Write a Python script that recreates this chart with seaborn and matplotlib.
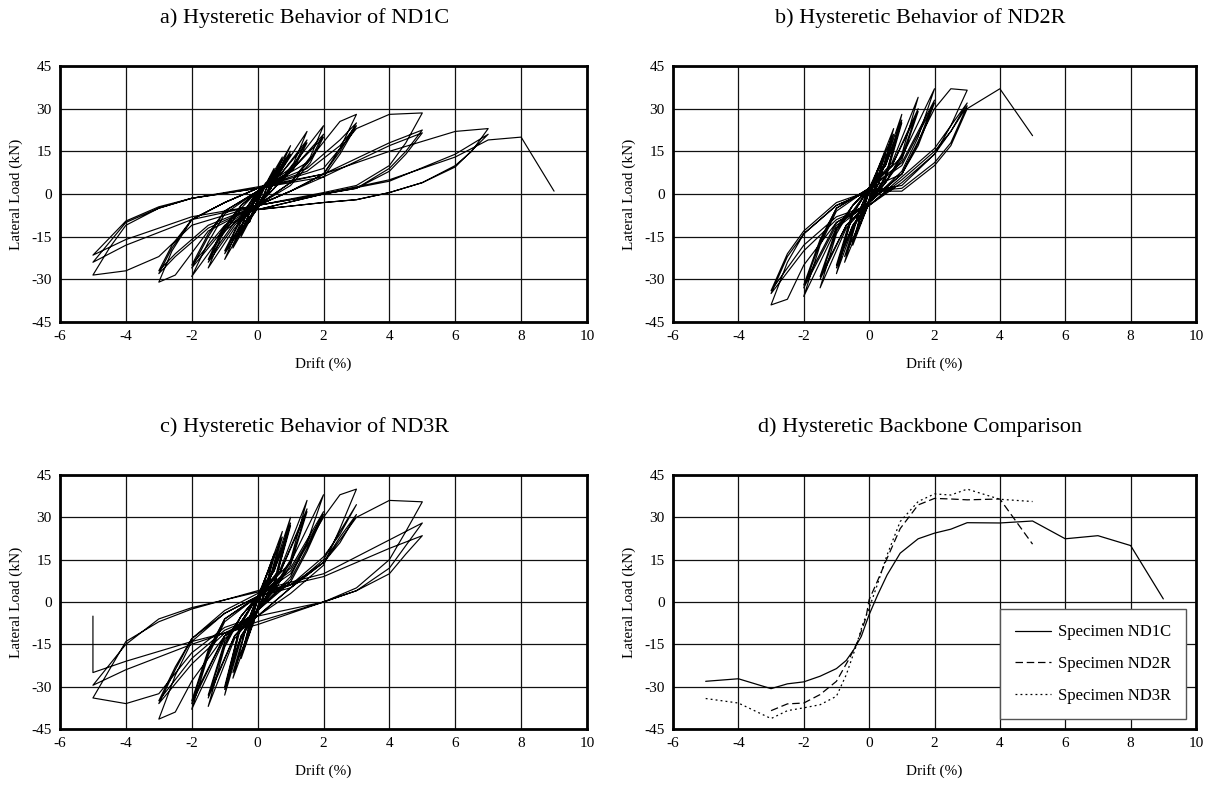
import matplotlib
matplotlib.use("Agg")
import matplotlib.pyplot as plt
import seaborn as sns
import pandas as pd

# hysteresis paths: (drift %, lateral load kN)
nd1c_path = [
    (0, 0),
    (0.25, 4), (0, -3), (-0.25, -10), (0, -2),
    (0.25, 3), (0, -3), (-0.25, -9), (0, -2),
    (0.5, 9), (0.2, 0), (0, -4), (-0.5, -15), (-0.2, -5), (0, -1),
    (0.5, 8), (0.2, 0), (0, -4), (-0.5, -14), (-0.2, -5), (0, -1),
    (0.4, 6), (0.75, 13), (0.3, 1), (0, -5), (-0.4, -12), (-0.75, -19), (-0.3, -6), (0, 0),
    (0.4, 5), (0.75, 12), (0.3, 1), (0, -5), (-0.4, -11), (-0.75, -18), (-0.3, -6), (0, 0),
    (0.5, 7), (1, 17), (0.4, 2), (0, -5), (-0.5, -13), (-1, -23), (-0.4, -7), (0, 1),
    (0.5, 6), (1, 15), (0.4, 2), (0, -5), (-0.5, -12), (-1, -21), (-0.4, -6), (0, 1),
    (0.5, 6), (1, 14), (0.4, 2), (0, -5), (-0.5, -11), (-1, -20), (-0.4, -6), (0, 1),
    (0.7, 8), (1.5, 22), (1.1, 11), (0.5, 2), (0, -4), (-0.7, -12), (-1.5, -26), (-1.1, -15), (-0.5, -5), (0, 1),
    (0.7, 7), (1.5, 19), (1.1, 10), (0.5, 2), (0, -4), (-0.7, -11), (-1.5, -24), (-1.1, -14), (-0.5, -4), (0, 1),
    (0.7, 7), (1.5, 18), (1.1, 9), (0.5, 2), (0, -4), (-0.7, -10), (-1.5, -23), (-1.1, -13), (-0.5, -4), (0, 1),
    (1, 9), (2, 24), (1.6, 13), (1, 4), (0, -4), (-1, -13), (-2, -29), (-1.5, -17), (-1, -7), (0, 1),
    (1, 8), (2, 21), (1.6, 12), (1, 4), (0, -4), (-1, -12), (-2, -26), (-1.5, -15), (-1, -6), (0, 1),
    (1, 8), (2, 20), (1.6, 11), (1, 3), (0, -4), (-1, -11), (-2, -25), (-1.5, -14), (-1, -6), (0, 1),
    (1.5, 11), (2.5, 25.5), (3, 28), (2.5, 16), (2, 7), (1, 1), (0, -4), (-1.5, -13), (-2.5, -28.5), (-3, -31),
    (-2.6, -20), (-2, -9), (-1, -3), (0, 2),
    (1.5, 9), (2.5, 19), (3, 25), (2.5, 15), (2, 7), (1, 1), (0, -4), (-1.5, -12), (-2.5, -22), (-3, -28),
    (-2.6, -19), (-2, -9), (-1, -3), (0, 2),
    (1.5, 8), (2.5, 17), (3, 24), (2.5, 14), (2, 6), (1, 1), (0, -4), (-1.5, -11), (-2.5, -21), (-3, -27),
    (-2.6, -18), (-2, -9), (-1, -3), (0, 2),
    (2, 9), (3, 23), (4, 28), (5, 28.5), (4.5, 18), (4, 10), (3, 3), (2, 0.5), (0, -4), (-2, -11), (-3, -22),
    (-4, -27), (-5, -28.5), (-4.5, -19), (-4, -11), (-3, -5), (-2, -1.5), (0, 2),
    (2, 7), (4, 18), (5, 22.5), (4.5, 15), (4, 9), (3, 2), (2, 0), (0, -4), (-2, -9), (-4, -18), (-5, -24),
    (-4, -10), (-3, -5), (-2, -1.5), (0, 2),
    (2, 6), (4, 17), (5, 21.5), (4.5, 14), (4, 8), (3, 2), (2, 0), (0, -4), (-2, -8), (-4, -16), (-5, -21.5),
    (-4, -9.5), (-3, -4.5), (-2, -1.5), (0, 2.5),
    (2, 7), (4, 15), (6, 22), (7, 23), (6.5, 15), (6, 10), (5, 4), (4, 0.5), (3, -2), (2, -3), (0, -5.5),
    (2, 0), (4, 4.5), (6, 14), (7, 21), (6, 9.5), (5, 4), (4, 0.5), (3, -2), (2, -3), (0, -5.5),
    (2, 0), (4, 5), (6, 13), (7, 19),
    (8, 20), (9, 1),
]

nd2r_path = [
    (0, 0),
    (0.25, 8), (0, -2), (-0.25, -9), (0, 1),
    (0.25, 7), (0, -2), (-0.25, -8), (0, 1),
    (0.5, 15), (0.2, 3), (0, -3), (-0.5, -18), (-0.2, -5), (0, 1),
    (0.5, 14), (0.2, 3), (0, -3), (-0.5, -17), (-0.2, -5), (0, 1),
    (0.75, 23), (0.3, 4), (0, -3), (-0.75, -24), (-0.3, -6), (0, 2),
    (0.75, 21), (0.3, 4), (0, -3), (-0.75, -22), (-0.3, -6), (0, 2),
    (0.5, 11), (1, 28), (0.5, 6), (0, -3), (-0.5, -12), (-1, -28), (-0.5, -7), (0, 2),
    (0.5, 10), (1, 26), (0.5, 6), (0, -3), (-0.5, -11), (-1, -26), (-0.5, -7), (0, 2),
    (0.5, 10), (1, 25), (0.5, 5), (0, -3), (-0.5, -11), (-1, -25), (-0.5, -6), (0, 2),
    (0.7, 11), (1.5, 34), (1, 14), (0.5, 4), (0, -3), (-0.7, -12), (-1.5, -33), (-1, -14), (-0.5, -4), (0, 2),
    (0.7, 10), (1.5, 30), (1, 13), (0.5, 4), (0, -3), (-0.7, -11), (-1.5, -30), (-1, -13), (-0.5, -4), (0, 2),
    (0.7, 10), (1.5, 29), (1, 12), (0.5, 4), (0, -3), (-0.7, -11), (-1.5, -29), (-1, -12), (-0.5, -4), (0, 2),
    (1, 13), (2, 37), (1.5, 20), (1, 8), (0, -3), (-1, -12), (-2, -36), (-1.5, -18), (-1, -6), (0, 2),
    (1, 11), (2, 33), (1.5, 18), (1, 7), (0, -3), (-1, -11), (-2, -33), (-1.5, -17), (-1, -5), (0, 2),
    (1, 10), (2, 32), (1.5, 17), (1, 7), (0, -3), (-1, -10), (-2, -32), (-1.5, -16), (-1, -5), (0, 2),
    (1, 7), (2, 30), (2.5, 37), (3, 36.5), (2.5, 24), (2, 14), (1, 4), (0, -4), (-1, -10), (-2, -25),
    (-2.5, -37), (-3, -39), (-2.5, -24), (-2, -14), (-1, -4), (0, 1),
    (1, 3), (2, 14), (2.5, 22), (3, 32), (2.5, 24), (2, 16), (1, 6), (0, -4), (-1, -9), (-2, -20), (-3, -35),
    (-2.5, -22), (-2, -14), (-1, -4), (0, 1),
    (1, 2), (2, 11), (2.5, 18), (3, 31), (2.5, 22), (2, 15), (1, 5), (0, -4), (-1, -8), (-2, -18), (-3, -34),
    (-2.5, -21), (-2, -13), (-1, -3), (0, 1),
    (1, 1), (2, 10), (2.5, 17), (3, 30), (4, 37), (5, 20.5),
]

nd3r_path = [
    (0, 0),
    (0.25, 9), (0, -2), (-0.25, -10), (0, 1),
    (0.25, 8), (0, -2), (-0.25, -9), (0, 1),
    (0.5, 17), (0.2, 3), (0, -3), (-0.5, -20), (-0.2, -6), (0, 1),
    (0.5, 16), (0.2, 3), (0, -3), (-0.5, -19), (-0.2, -6), (0, 1),
    (0.75, 25), (0.3, 5), (0, -3), (-0.75, -27), (-0.3, -7), (0, 2),
    (0.75, 23), (0.3, 5), (0, -3), (-0.75, -25), (-0.3, -7), (0, 2),
    (0.5, 12), (1, 30), (0.5, 7), (0, -3), (-0.5, -13), (-1, -33), (-0.5, -8), (0, 2),
    (0.5, 11), (1, 28), (0.5, 6), (0, -3), (-0.5, -12), (-1, -31), (-0.5, -7), (0, 2),
    (0.5, 11), (1, 27), (0.5, 6), (0, -3), (-0.5, -12), (-1, -30), (-0.5, -7), (0, 2),
    (0.7, 12), (1.5, 36), (1, 15), (0.5, 5), (0, -3), (-0.7, -13), (-1.5, -37), (-1, -16), (-0.5, -5), (0, 2),
    (0.7, 11), (1.5, 33), (1, 14), (0.5, 5), (0, -3), (-0.7, -12), (-1.5, -34), (-1, -15), (-0.5, -5), (0, 2),
    (0.7, 11), (1.5, 32), (1, 13), (0.5, 4), (0, -3), (-0.7, -12), (-1.5, -33), (-1, -14), (-0.5, -5), (0, 2),
    (1, 14), (2, 38), (1.5, 21), (1, 9), (0, -3), (-1, -13), (-2, -38), (-1.5, -19), (-1, -7), (0, 2),
    (1, 12), (2, 32), (1.5, 19), (1, 8), (0, -3), (-1, -12), (-2, -36), (-1.5, -18), (-1, -6), (0, 2),
    (1, 11), (2, 31), (1.5, 18), (1, 7), (0, -3), (-1, -12), (-2, -35), (-1.5, -17), (-1, -6), (0, 2),
    (1, 10), (2, 30), (2.5, 38), (3, 40), (2.5, 26), (2, 13), (1, 3), (0, -5), (-1, -12), (-2, -28),
    (-2.5, -39), (-3, -41.5), (-2.5, -26), (-2, -14), (-1, -4), (0, 2),
    (1, 6), (2, 16), (2.5, 24), (3, 34.5), (2.5, 25), (2, 15), (1, 5), (0, -5), (-1, -11), (-2, -22), (-3, -36),
    (-2.5, -24), (-2, -13), (-1, -4), (0, 2),
    (1, 5), (2, 14), (2.5, 21), (3, 31), (2.5, 23), (2, 14), (1, 5), (0, -5), (-1, -10), (-2, -20), (-3, -35),
    (-2.5, -23), (-2, -13), (-1, -3), (0, 3),
    (1, 6), (2, 14), (3, 30), (4, 36), (5, 35.5), (4.5, 25), (4, 15), (3, 5), (2, 0), (0, -5), (-1, -9),
    (-2, -18), (-3, -32.5), (-4, -36), (-5, -34), (-4.5, -24), (-4, -14), (-3, -7), (-2, -2.5), (0, 4),
    (2, 10), (4, 22), (5, 28), (4.5, 20), (4, 12), (3, 4), (2, 0), (0, -7), (-2, -15), (-4, -24), (-5, -29.5),
    (-4, -15), (-3, -6), (-2, -2), (0, 3.5),
    (2, 9), (4, 19), (5, 23.5), (4.5, 17), (4, 10), (3, 4), (2, 0), (0, -8), (-2, -14), (-4, -21), (-5, -25),
    (-5, -5),
]

# backbone curves
bb_nd1c_drift = [-5, -4, -3, -2.5, -2, -1.5, -1, -0.7, -0.47, -0.24, 0, 0.26, 0.55, 0.95, 1.5, 2, 2.5, 3, 4, 5, 6, 7, 8, 9]
bb_nd1c_load = [-28.1, -27.2, -30.7, -29, -28.3, -26.3, -23.6, -20.7, -16.9, -12.2, -4.5, 2.5, 9.6, 17.3, 22.4, 24.4,
                25.8, 28.1, 28, 28.7, 22.4, 23.5, 20, 1.1]
bb_nd2r_drift = [-3, -2.5, -2, -1.5, -1, -0.6, -0.35, -0.1, 0, 0.25, 0.55, 0.95, 1.5, 2, 2.5, 3, 4, 5]
bb_nd2r_load = [-38.5, -36.1, -35.8, -32.8, -28.1, -19.9, -14, -5.7, 0.8, 7.3, 15.5, 26, 34.4, 36.7, 36.5, 36.2, 36.5, 20.5]
bb_nd3r_drift = [-5, -4, -3, -2.5, -2, -1.5, -1, -0.7, -0.4, -0.2, 0, 0.25, 0.55, 0.95, 1.5, 2, 2.5, 3, 4, 5]
bb_nd3r_load = [-34.2, -35.8, -41.3, -38.5, -37.5, -36.4, -33.4, -25.8, -15.7, -8, -2.2, 6.1, 16.7, 28.5, 35.6, 38.3,
                37.9, 40, 36.4, 35.6]

titles = ["a) Hysteretic Behavior of ND1C", "b) Hysteretic Behavior of ND2R",
          "c) Hysteretic Behavior of ND3R", "d) Hysteretic Backbone Comparison"]
legend_labels = ["Specimen ND1C", "Specimen ND2R", "Specimen ND3R"]

sns.set_theme(style="white")
plt.rcParams["font.family"] = ["Liberation Serif", "DejaVu Serif"]
plt.rcParams["axes.unicode_minus"] = False
plt.rcParams["text.color"] = "black"
plt.rcParams["axes.labelcolor"] = "black"

fig = plt.figure(figsize=(12.09, 7.90), dpi=100)
W, H = 1209, 790
boxes = [(60, 66, 587, 322), (673, 66, 1196, 322), (60, 475, 587, 729), (673, 475, 1196, 729)]
title_pos = [(305, 18), (920, 18), (305, 427), (920, 427)]
axes = []
for (l, t, r, b) in boxes:
    axes.append(fig.add_axes([l / W, 1 - b / H, (r - l) / W, (b - t) / H]))


def style_axis(ax):
    ax.set_xlim(-6, 10)
    ax.set_ylim(-45, 45)
    ax.set_xticks(range(-6, 11, 2))
    ax.set_yticks(range(-45, 46, 15))
    ax.grid(True, color="#111111", linewidth=0.9)
    ax.set_axisbelow(True)
    for sp in ax.spines.values():
        sp.set_visible(True)
        sp.set_color("black")
        sp.set_linewidth(2.0)
    ax.tick_params(length=0, labelsize=11, pad=6, colors="black")
    ax.set_xlabel("Drift (%)", fontsize=11, labelpad=10, color="black")
    ax.set_ylabel("Lateral Load (kN)", fontsize=11, labelpad=6, color="black")


for ax, path in zip(axes[:3], [nd1c_path, nd2r_path, nd3r_path]):
    df = pd.DataFrame(path, columns=["drift", "load"])
    sns.lineplot(data=df, x="drift", y="load", sort=False, estimator=None, color="black", linewidth=0.85, ax=ax)
    style_axis(ax)

ax = axes[3]
sns.lineplot(x=bb_nd1c_drift, y=bb_nd1c_load, sort=False, estimator=None, color="black", linewidth=0.9,
             linestyle="-", label=legend_labels[0], ax=ax)
sns.lineplot(x=bb_nd2r_drift, y=bb_nd2r_load, sort=False, estimator=None, color="black", linewidth=0.9,
             linestyle=(0, (6, 3)), label=legend_labels[1], ax=ax)
sns.lineplot(x=bb_nd3r_drift, y=bb_nd3r_load, sort=False, estimator=None, color="black", linewidth=0.9,
             linestyle=(0, (1.5, 2.5)), label=legend_labels[2], ax=ax)
style_axis(ax)
leg = ax.legend(loc="lower right", frameon=True, fancybox=False, edgecolor="#555555", fontsize=12,
                handlelength=2.2, labelspacing=0.95, borderpad=0.9, borderaxespad=0.6, handletextpad=0.4)
leg.get_frame().set_linewidth(1.0)
leg.get_frame().set_facecolor("white")
leg.get_frame().set_alpha(1.0)
for txt in leg.get_texts():
    txt.set_color("black")

for (x, y), t in zip(title_pos, titles):
    fig.text(x / W, 1 - y / H, t, fontsize=16, ha="center", va="center", color="black")

fig.savefig("out.png", dpi=100)
